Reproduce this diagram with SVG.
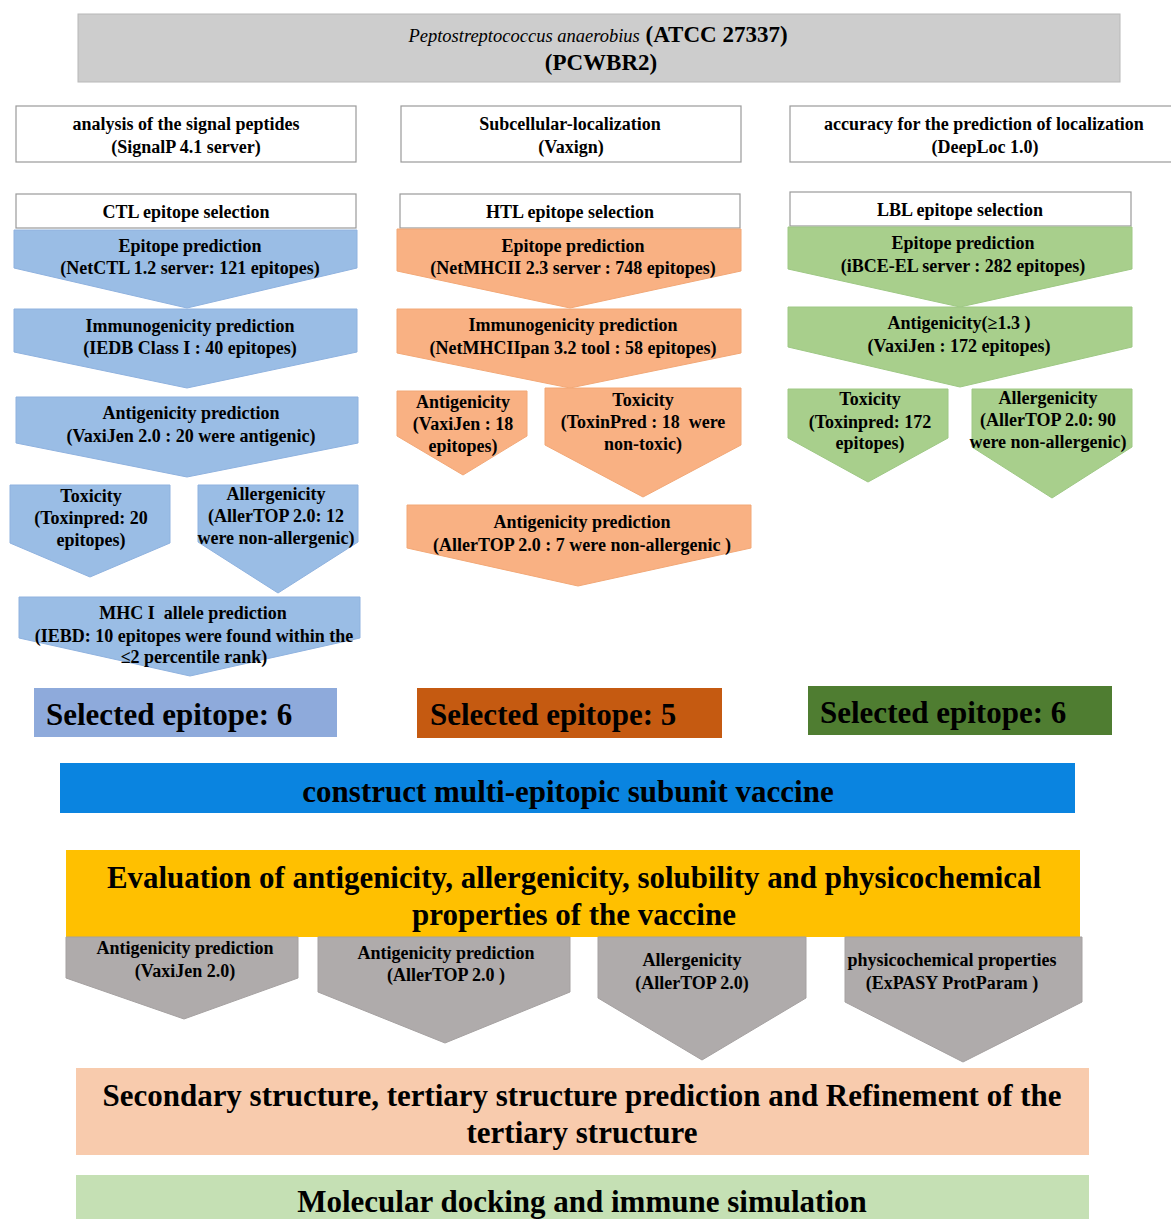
<svg xmlns="http://www.w3.org/2000/svg" width="1171" height="1219" viewBox="0 0 1171 1219">
<style>
text{font-family:"Liberation Serif","Times New Roman",serif;font-weight:bold;fill:#000;text-anchor:middle}
.s{font-size:18px}
.b{font-size:31px}
.l{text-anchor:start}
.box{fill:#fff;stroke:#9a9a9a;stroke-width:1.2}
.blue{fill:#9abde5;stroke:#8fb2df;stroke-width:1}
.org{fill:#f9b183;stroke:#f2a877;stroke-width:1}
.grn{fill:#a8cf8c;stroke:#9ec884;stroke-width:1}
.gry{fill:#afabab;stroke:#a5a1a1;stroke-width:1}
</style>
<rect width="1171" height="1219" fill="#fff"/>
<g id="connectors"/>

<g id="title">
<rect x="78" y="14" width="1042" height="68" fill="#cdcdcd" stroke="#b8b8b8"/>
<text x="598" y="42"><tspan font-style="italic" font-weight="normal" font-size="18.5">Peptostreptococcus anaerobius</tspan><tspan font-size="23"> (ATCC 27337)</tspan></text>
<text x="601" y="70" font-size="23">(PCWBR2)</text>
</g>

<g id="signalp">
<rect class="box" x="16" y="106" width="340" height="56"/>
<text class="s" x="186" y="130">analysis of the signal peptides</text>
<text class="s" x="186" y="153">(SignalP 4.1 server)</text>
</g>
<g id="vaxign">
<rect class="box" x="401" y="106" width="340" height="56"/>
<text class="s" x="570" y="130">Subcellular-localization</text>
<text class="s" x="571" y="153">(Vaxign)</text>
</g>
<g id="deeploc">
<rect class="box" x="790" y="106" width="390" height="56"/>
<text class="s" x="984" y="130">accuracy for the prediction of localization</text>
<text class="s" x="985" y="153">(DeepLoc 1.0)</text>
</g>

<!-- CTL column -->
<g id="ctl-header">
<rect class="box" x="16" y="194" width="340" height="34"/>
<text class="s" x="186" y="218">CTL epitope selection</text>
</g>
<g id="ctl-epitope">
<path class="blue" d="M14,230 H357 V268 L187,308 L14,268 Z"/>
<text class="s" x="190" y="252">Epitope prediction</text>
<text class="s" x="190" y="274">(NetCTL 1.2 server: 121 epitopes)</text>
</g>
<g id="ctl-immuno">
<path class="blue" d="M14,309 H357 V352 L187,388 L14,352 Z"/>
<text class="s" x="190" y="332">Immunogenicity prediction</text>
<text class="s" x="190" y="354">(IEDB Class I : 40 epitopes)</text>
</g>
<g id="ctl-antigen">
<path class="blue" d="M16,397 H358 V443 L187,477 L16,443 Z"/>
<text class="s" x="191" y="419">Antigenicity prediction</text>
<text class="s" x="191" y="442">(VaxiJen 2.0 : 20 were antigenic)</text>
</g>
<g id="ctl-toxicity">
<path class="blue" d="M10,485 H170 V543 L90,577 L10,543 Z"/>
<text class="s" x="91" y="502">Toxicity</text>
<text class="s" x="91" y="524">(Toxinpred: 20</text>
<text class="s" x="91" y="546">epitopes)</text>
</g>
<g id="ctl-allergen">
<path class="blue" d="M198,485 H358 V542 L278,593 L198,542 Z"/>
<text class="s" x="276" y="500">Allergenicity</text>
<text class="s" x="276" y="522">(AllerTOP 2.0: 12</text>
<text class="s" x="276" y="544">were non-allergenic)</text>
</g>
<g id="ctl-mhc">
<path class="blue" d="M19,597 H360 V638 L190,676 L19,638 Z"/>
<text class="s" x="193" y="619">MHC I&#160; allele prediction</text>
<text class="s" x="194" y="642">(IEBD: 10 epitopes were found within the</text>
<text class="s" x="194" y="663">≤2 percentile rank)</text>
</g>
<g id="ctl-selected">
<rect x="34" y="688" width="303" height="49" fill="#8eaadb"/>
<text class="b l" x="46" y="725">Selected epitope: 6</text>
</g>

<!-- HTL column -->
<g id="htl-header">
<rect class="box" x="400" y="194" width="340" height="34"/>
<text class="s" x="570" y="218">HTL epitope selection</text>
</g>
<g id="htl-epitope">
<path class="org" d="M397,229 H741 V271 L570,308 L397,271 Z"/>
<text class="s" x="573" y="252">Epitope prediction</text>
<text class="s" x="573" y="274">(NetMHCII 2.3 server : 748 epitopes)</text>
</g>
<g id="htl-immuno">
<path class="org" d="M397,309 H741 V353 L570,388 L397,353 Z"/>
<text class="s" x="573" y="331">Immunogenicity prediction</text>
<text class="s" x="573" y="354">(NetMHCIIpan 3.2 tool : 58 epitopes)</text>
</g>
<g id="htl-antigen">
<path class="org" d="M397,391 H527 V436 L463,475 L397,436 Z"/>
<text class="s" x="463" y="408">Antigenicity</text>
<text class="s" x="463" y="430">(VaxiJen : 18</text>
<text class="s" x="463" y="452">epitopes)</text>
</g>
<g id="htl-toxicity">
<path class="org" d="M545,388 H741 V445 L643,497 L545,445 Z"/>
<text class="s" x="643" y="406">Toxicity</text>
<text class="s" x="643" y="428">(ToxinPred : 18&#160; were</text>
<text class="s" x="643" y="450">non-toxic)</text>
</g>
<g id="htl-allertop">
<path class="org" d="M407,505 H751 V548 L578,586 L407,548 Z"/>
<text class="s" x="582" y="528">Antigenicity prediction</text>
<text class="s" x="582" y="551">(AllerTOP 2.0 : 7 were non-allergenic )</text>
</g>
<g id="htl-selected">
<rect x="417" y="688" width="305" height="50" fill="#c55a11"/>
<text class="b l" x="430" y="725">Selected epitope: 5</text>
</g>

<!-- LBL column -->
<g id="lbl-header">
<rect class="box" x="790" y="192" width="341" height="34"/>
<text class="s" x="960" y="216">LBL epitope selection</text>
</g>
<g id="lbl-epitope">
<path class="grn" d="M788,227 H1132 V269 L960,307 L788,269 Z"/>
<text class="s" x="963" y="249">Epitope prediction</text>
<text class="s" x="963" y="272">(iBCE-EL server : 282 epitopes)</text>
</g>
<g id="lbl-antigen">
<path class="grn" d="M788,307 H1132 V347 L960,387 L788,347 Z"/>
<text class="s" x="959" y="329">Antigenicity(≥1.3 )</text>
<text class="s" x="959" y="352">(VaxiJen : 172 epitopes)</text>
</g>
<g id="lbl-toxicity">
<path class="grn" d="M788,389 H948 V438 L868,482 L788,438 Z"/>
<text class="s" x="870" y="405">Toxicity</text>
<text class="s" x="870" y="428">(Toxinpred: 172</text>
<text class="s" x="870" y="449">epitopes)</text>
</g>
<g id="lbl-allergen">
<path class="grn" d="M972,389 H1132 V447 L1052,498 L972,447 Z"/>
<text class="s" x="1048" y="404">Allergenicity</text>
<text class="s" x="1048" y="426">(AllerTOP 2.0: 90</text>
<text class="s" x="1048" y="448">were non-allergenic)</text>
</g>
<g id="lbl-selected">
<rect x="808" y="686" width="304" height="49" fill="#4f7d31"/>
<text class="b l" x="820" y="723">Selected epitope: 6</text>
</g>

<!-- bottom -->
<g id="construct">
<rect x="60" y="763" width="1015" height="50" fill="#0a84e0"/>
<text class="b" x="568" y="802">construct multi-epitopic subunit vaccine</text>
</g>
<g id="evaluation">
<rect x="66" y="850" width="1014" height="87" fill="#ffc000"/>
<text class="b" x="574" y="888" textLength="934" lengthAdjust="spacingAndGlyphs">Evaluation of antigenicity, allergenicity, solubility and physicochemical</text>
<text class="b" x="574" y="925">properties of the vaccine</text>
</g>
<g id="eval-vaxijen">
<path class="gry" d="M66,937 H298 V978 L184,1019 L66,978 Z"/>
<text class="s" x="185" y="954">Antigenicity prediction</text>
<text class="s" x="185" y="977">(VaxiJen 2.0)</text>
</g>
<g id="eval-allertop">
<path class="gry" d="M318,937 H570 V992 L445,1043 L318,992 Z"/>
<text class="s" x="446" y="959">Antigenicity prediction</text>
<text class="s" x="446" y="981">(AllerTOP 2.0 )</text>
</g>
<g id="eval-allergenicity">
<path class="gry" d="M598,937 H806 V998 L702,1060 L598,998 Z"/>
<text class="s" x="692" y="966">Allergenicity</text>
<text class="s" x="692" y="989">(AllerTOP 2.0)</text>
</g>
<g id="eval-physico">
<path class="gry" d="M845,937 H1082 V1002 L963,1062 L845,1002 Z"/>
<text class="s" x="952" y="966">physicochemical properties</text>
<text class="s" x="952" y="989">(ExPASY ProtParam )</text>
</g>
<g id="structure">
<rect x="76" y="1068" width="1013" height="87" fill="#f8cbad"/>
<text class="b" x="582" y="1106" textLength="959" lengthAdjust="spacingAndGlyphs">Secondary structure, tertiary structure prediction and Refinement of the</text>
<text class="b" x="582" y="1143">tertiary structure</text>
</g>
<g id="docking">
<rect x="76" y="1175" width="1013" height="50" fill="#c5e0b4"/>
<text class="b" x="582" y="1212">Molecular docking and immune simulation</text>
</g>
</svg>
